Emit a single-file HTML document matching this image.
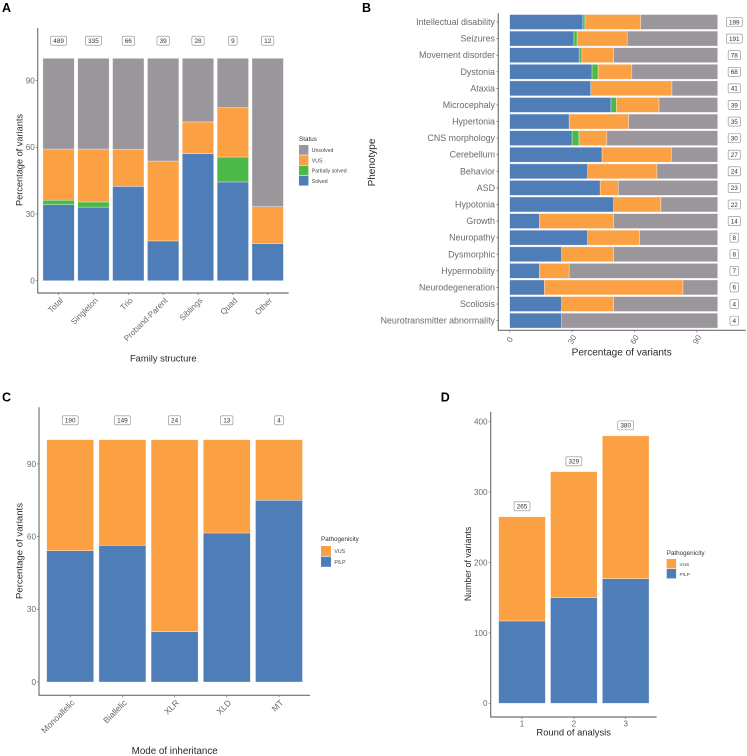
<!DOCTYPE html>
<html lang="en">
<head>
<meta charset="utf-8">
<title>Variant outcome charts</title>
<style>
html,body{margin:0;padding:0;background:#fff;}
svg{display:block;font-family:"Liberation Sans",Arial,sans-serif;}
</style>
</head>
<body>
<svg id="figure" xmlns="http://www.w3.org/2000/svg" width="747" height="756" viewBox="0 0 747 756"></svg>
<script>
// Panel A
const familyCategories = ['Total','Singleton','Trio','Proband-Parent','Siblings','Quad','Other'];
const familyCounts = [489,335,66,39,28,9,12];
const familySolved = [34.2,33.1,42.4,17.9,57.1,44.4,16.7];
const familyPartial = [2.0,2.3,0,0,0,11.2,0];
const familyVus = [23.0,23.8,16.7,35.9,14.3,22.2,16.6];
const familyUnsolved = [40.8,40.8,40.9,46.2,28.6,22.2,66.7];
const percentTicks = [0,30,60,90];

// Panel B
const phenotypeCategories = ['Intellectual disability','Seizures','Movement disorder','Dystonia','Ataxia','Microcephaly','Hypertonia','CNS morphology','Cerebellum','Behavior','ASD','Hypotonia','Growth','Neuropathy','Dysmorphic','Hypermobility','Neurodegeneration','Scoliosis','Neurotransmitter abnormality'];
const phenotypeCounts = [199,191,78,68,41,39,35,30,27,24,23,22,14,8,8,7,6,4,4];
const phenotypeSolved = [35.2,30.9,33.4,39.6,39.0,48.7,28.6,30.0,44.4,37.5,43.5,50.0,14.3,37.5,25.0,14.3,16.7,25.0,25.0];
const phenotypePartial = [1.0,1.5,1.3,2.9,0,2.6,0,3.3,0,0,0,0,0,0,0,0,0,0,0];
const phenotypeVus = [26.8,24.1,15.3,16.2,39.0,20.5,28.6,13.4,33.3,33.3,8.7,22.7,35.7,25.0,25.0,14.3,66.6,25.0,0];
const phenotypeUnsolved = [37.0,43.5,50.0,41.3,22.0,28.2,42.8,53.3,22.3,29.2,47.8,27.3,50.0,37.5,50.0,71.4,16.7,50.0,75.0];

// Panel C
const inheritanceCategories = ['Monoallelic','Biallelic','XLR','XLD','MT'];
const inheritanceCounts = [190,149,24,13,4];
const inheritancePlp = [54.2,56.4,20.8,61.5,75];
const inheritanceVus = [45.8,43.6,79.2,38.5,25];

// Panel D
const roundCategories = ['1','2','3'];
const roundPlp = [117,150,177];
const roundVus = [148,179,203];
const roundTicks = [0,100,200,300,400];

const statusLegendLabels = ['Unsolved','VUS','Partially solved','Solved'];
const pathogenicityLegendLabels = ['VUS','P/LP'];

const BLUE = '#4f7db8', ORANGE = '#fca044', GREEN = '#4cb848', GREY = '#9b969b';
const AXIS = '#6f6f6f', TICKTEXT = '#6b6b6b', TITLE = '#2a2a2a';
const NS = 'http://www.w3.org/2000/svg';
const root = document.getElementById('figure');

function make(tag, attrs, parent, text) {
  const el = document.createElementNS(NS, tag);
  for (const k in attrs) el.setAttribute(k, attrs[k]);
  if (text !== undefined) el.textContent = text;
  (parent || root).appendChild(el);
  return el;
}
function slug(s) { return String(s).toLowerCase().replace(/[^a-z0-9]+/g, '-'); }
function linearScale(d0, d1, r0, r1) { return v => r0 + (v - d0) * (r1 - r0) / (d1 - d0); }
function bandScale(first, step) { return i => first + i * step; }

function panelLetter(letter, x, y) {
  const t = make('text', {x, y, 'font-size': 12.5, 'font-weight': 'bold', fill: '#000'}, root, letter);
  
  
}
function axisLines(g, x0, top, bottom, right) {
  const yl = make('line', {x1: x0, y1: top, x2: x0, y2: bottom, stroke: AXIS, 'stroke-width': 1.15}, g);
  
  
  const xl = make('line', {x1: x0 - 0.5, y1: bottom, x2: right, y2: bottom, stroke: AXIS, 'stroke-width': 1.15}, g);
  
  
}
function tickMark(g, x1, y1, x2, y2) {
  const t = make('line', {x1, y1, x2, y2, stroke: AXIS, 'stroke-width': 0.7}, g);
  
  
}
function tickLabel(g, label, size, attrs) {
  const t = make('text', Object.assign({fill: TICKTEXT, 'font-size': size}, attrs), g, label);
  
  
}
function axisTitle(g, label, x, y, rotate, size) {
  const a = {x, y, 'font-size': size, fill: TITLE, 'text-anchor': 'middle'};
  if (rotate) a.transform = 'rotate(-90 ' + x + ' ' + y + ')';
  const t = make('text', a, g, label);
  
  
}
function countLabel(g, value, cx, cy) {
  const w = 3.65 * String(value).length + 5;
  const box = make('rect', {x: cx - w / 2, y: cy - 4.5, width: w, height: 9, rx: 1.4, fill: '#fff', stroke: '#8a8a8a', 'stroke-width': 0.6}, g);
  
  
  const t = make('text', {x: cx, y: cy + 2.3, 'font-size': 6.4, fill: '#333', 'text-anchor': 'middle'}, g, value);
  
  
}
function barRect(g, name, x, y, w, h, fill) {
  if (h <= 0 || w <= 0) return;
  const r = make('rect', {x, y, width: w, height: h, fill, stroke: '#ffffff', 'stroke-opacity': 0.55, 'stroke-width': 0.6}, g);
  
  
}
function legend(g, title, labels, colors, x, titleY, keyTop, keyW, keyStep, fontSize) {
  const t = make('text', {x, y: titleY, 'font-size': 6.3, fill: '#333'}, g, title);
  
  
  labels.forEach((label, i) => {
    const k = make('rect', {x, y: keyTop + i * keyStep, width: keyW, height: keyStep - 0.6, fill: colors[i]}, g);
    
    
    const l = make('text', {x: x + keyW + 3.4, y: keyTop + i * keyStep + keyStep / 2 + 1.8, 'font-size': fontSize, fill: '#444'}, g, label);
    
    
  });
}
function group(name) {
  const g = make('g', {});
  
  
  return g;
}

/* Panel A */
(function () {
  const g = group('family-structure-chart');
  panelLetter('A', 2, 12);
  const y = linearScale(0, 100, 280.7, 58.3);
  const x = bandScale(58.6, 34.85);
  const w = 31.4;
  axisLines(g, 37.7, 28, 293, 288.7);
  percentTicks.forEach(v => {
    tickMark(g, 35.7, y(v), 37.7, y(v));
    tickLabel(g, v, 8.1, {x: 34.8, y: y(v) + 2.9, 'text-anchor': 'end'});
  });
  familyCategories.forEach((c, i) => {
    let acc = 0;
    [[familySolved, BLUE, 'solved'], [familyPartial, GREEN, 'partially-solved'], [familyVus, ORANGE, 'vus'], [familyUnsolved, GREY, 'unsolved']].forEach(s => {
      const v = s[0][i];
      barRect(g, 'bar-' + slug(c) + '-' + s[2], x(i) - w / 2, y(acc + v), w, y(acc) - y(acc + v), s[1]);
      acc += v;
    });
    countLabel(g, familyCounts[i], x(i), 40.7);
    tickMark(g, x(i), 293, x(i), 295);
    const px = x(i) + 5, py = 301;
    tickLabel(g, c, 8.2, {x: px, y: py, 'text-anchor': 'end', transform: 'rotate(-45 ' + px + ' ' + py + ')'});
  });
  axisTitle(g, 'Family structure', 163.3, 361.5, false, 9.4);
  axisTitle(g, 'Percentage of variants', 22.5, 160, true, 9.2);
  legend(g, 'Status', statusLegendLabels, [GREY, ORANGE, GREEN, BLUE], 299, 141, 145, 9.4, 10.3, 5.2);
})();

/* Panel B */
(function () {
  const g = group('phenotype-chart');
  panelLetter('B', 362, 12);
  const x = linearScale(0, 100, 509.7, 717.7);
  const y = bandScale(22, 16.59);
  const h = 14.9;
  axisLines(g, 498.3, 13.3, 330.3, 745.7);
  phenotypeCategories.forEach((c, i) => {
    let acc = 0;
    [[phenotypeSolved, BLUE, 'solved'], [phenotypePartial, GREEN, 'partially-solved'], [phenotypeVus, ORANGE, 'vus'], [phenotypeUnsolved, GREY, 'unsolved']].forEach(s => {
      const v = s[0][i];
      barRect(g, 'bar-' + slug(c) + '-' + s[2], x(acc), y(i) - h / 2, x(acc + v) - x(acc), h, s[1]);
      acc += v;
    });
    countLabel(g, phenotypeCounts[i], 734.3, y(i));
    tickMark(g, 496.3, y(i), 498.3, y(i));
    tickLabel(g, c, 8.9, {x: 495, y: y(i) + 3, 'text-anchor': 'end'});
  });
  percentTicks.forEach(v => {
    tickMark(g, x(v), 330.3, x(v), 332.3);
    const py = 339.5;
    tickLabel(g, v, 8.1, {x: x(v), y: py + 2.8, 'text-anchor': 'middle', transform: 'rotate(-60 ' + x(v) + ' ' + py + ')'});
  });
  axisTitle(g, 'Percentage of variants', 621.7, 355.5, false, 10);
  axisTitle(g, 'Phenotype', 375, 162.5, true, 10);
})();

/* Panel C */
(function () {
  const g = group('mode-of-inheritance-chart');
  panelLetter('C', 2, 401.7);
  const y = linearScale(0, 100, 682, 439.7);
  const x = bandScale(70.2, 52.2);
  const w = 47;
  axisLines(g, 39, 407.3, 695.3, 310);
  percentTicks.forEach(v => {
    tickMark(g, 37, y(v), 39, y(v));
    tickLabel(g, v, 8.2, {x: 36, y: y(v) + 2.9, 'text-anchor': 'end'});
  });
  inheritanceCategories.forEach((c, i) => {
    barRect(g, 'bar-' + slug(c) + '-plp', x(i) - w / 2, y(inheritancePlp[i]), w, y(0) - y(inheritancePlp[i]), BLUE);
    barRect(g, 'bar-' + slug(c) + '-vus', x(i) - w / 2, y(inheritancePlp[i] + inheritanceVus[i]), w, y(inheritancePlp[i]) - y(inheritancePlp[i] + inheritanceVus[i]), ORANGE);
    countLabel(g, inheritanceCounts[i], x(i), 420.3);
    tickMark(g, x(i), 695.3, x(i), 697.3);
    const px = x(i) + 5, py = 703.3;
    tickLabel(g, c, 8.6, {x: px, y: py, 'text-anchor': 'end', transform: 'rotate(-45 ' + px + ' ' + py + ')'});
  });
  axisTitle(g, 'Mode of inheritance', 174.7, 754, false, 9.8);
  axisTitle(g, 'Percentage of variants', 22.5, 551, true, 9.6);
  legend(g, 'Pathogenicity', pathogenicityLegendLabels, [ORANGE, BLUE], 321, 541.2, 546, 10, 10.7, 5.2);
})();

/* Panel D */
(function () {
  const g = group('round-of-analysis-chart');
  panelLetter('D', 440.7, 401.7);
  const y = linearScale(0, 400, 703.3, 421.7);
  const x = bandScale(522, 51.85);
  const w = 46.7;
  axisLines(g, 490.7, 411.7, 717, 656.7);
  roundTicks.forEach(v => {
    tickMark(g, 488.7, y(v), 490.7, y(v));
    tickLabel(g, v, 8.1, {x: 487.5, y: y(v) + 2.9, 'text-anchor': 'end'});
  });
  roundCategories.forEach((c, i) => {
    const total = roundPlp[i] + roundVus[i];
    barRect(g, 'bar-round-' + c + '-plp', x(i) - w / 2, y(roundPlp[i]), w, y(0) - y(roundPlp[i]), BLUE);
    barRect(g, 'bar-round-' + c + '-vus', x(i) - w / 2, y(total), w, y(roundPlp[i]) - y(total), ORANGE);
    countLabel(g, total, x(i), y(total) - 10.4);
    tickMark(g, x(i), 717, x(i), 719);
    tickLabel(g, c, 8.1, {x: x(i), y: 726.6, 'text-anchor': 'middle'});
  });
  axisTitle(g, 'Round of analysis', 573.7, 735.5, false, 9.4);
  axisTitle(g, 'Number of variants', 471, 564, true, 8.8);
  legend(g, 'Pathogenicity', pathogenicityLegendLabels, [ORANGE, BLUE], 666.7, 554.8, 559, 9.4, 10, 4.8);
})();
</script>
</body>
</html>
